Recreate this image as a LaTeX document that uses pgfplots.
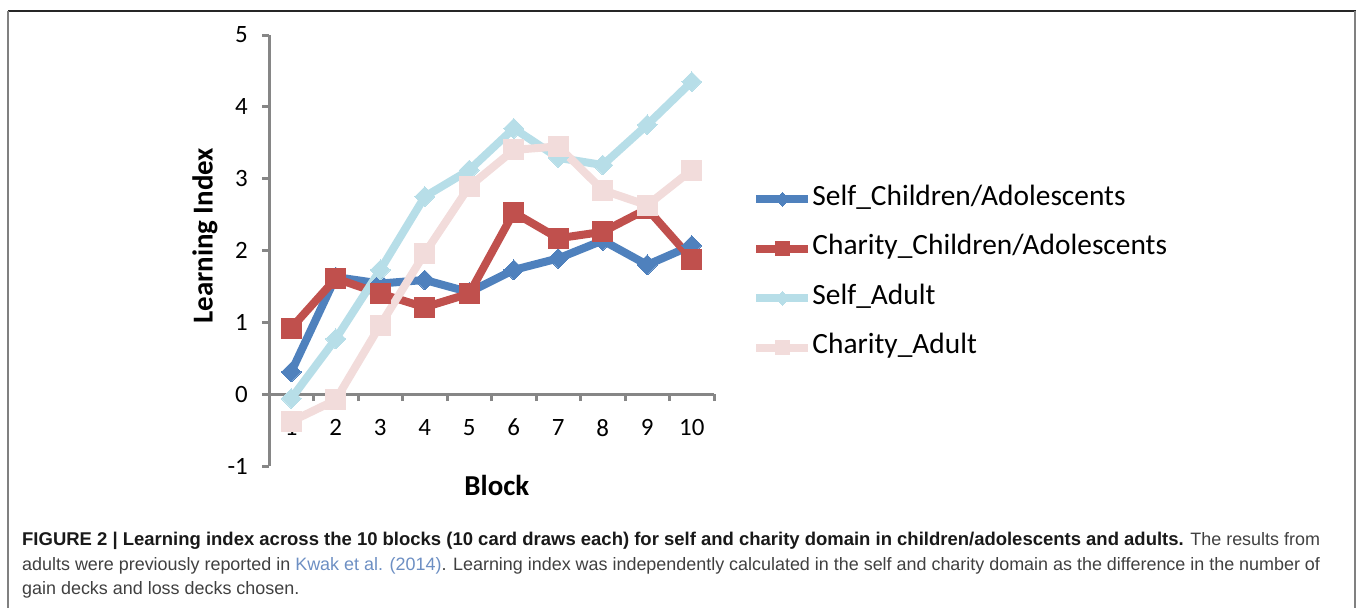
\documentclass[border=0pt]{standalone}
\usepackage{pgfplots}
\pgfplotsset{compat=1.18}
\usepackage{fontspec}
\setmainfont{Carlito}
\newfontfamily\capfont{Liberation Sans}

\definecolor{selfkid}{HTML}{4F81BD}
\definecolor{charkid}{HTML}{C0504D}
\definecolor{selfad}{HTML}{B7DEE8}
\definecolor{charad}{HTML}{F2DCDB}
\definecolor{axisgray}{HTML}{868686}
\definecolor{captxt}{HTML}{404040}
\definecolor{caplink}{HTML}{6D8FC3}

\newcommand{\fs}[1]{\fontsize{#1}{#1}\selectfont}

\begin{document}
\begin{tikzpicture}
\path[use as bounding box] (0,0) rectangle (1357bp,-608bp);
% frame of the figure
\draw[black!85, line width=1.5bp] (8bp,-11bp) -- (1356bp,-11bp);
\draw[gray, line width=2bp] (8bp,-11bp) -- (8bp,-608bp);
\draw[gray, line width=2bp] (1355bp,-11bp) -- (1355bp,-608bp);

\begin{axis}[
  at={(269bp,-466bp)}, anchor=south west,
  scale only axis, width=445bp, height=431bp,
  xmin=0.5, xmax=10.5, ymin=-1, ymax=5,
  axis y line*=left, axis x line*=middle,
  hide obscured x ticks=false, hide obscured y ticks=false,
  axis line style={draw=axisgray, line width=3bp},
  xtick={1,...,10}, ytick={-1,...,5},
  minor xtick={1.5,2.5,...,10.5},
  major x tick style={draw=none},
  tick style={draw=axisgray, line width=3bp},
  major tick length=7bp, minor tick length=7bp,
  tick align=outside,
  /pgf/number format/assume math mode=true,
  ticklabel style={font=\fs{25}},
  xticklabel style={anchor=center, yshift=-26.5bp},
  yticklabel style={anchor=east, inner sep=0pt, xshift=-14bp},
  xlabel={Block}, ylabel={Learning Index},
  every axis x label/.style={at={(rel axis cs:0.512,-0.044)}, anchor=center,
    font=\bfseries\fs{29}},
  every axis y label/.style={at={(rel axis cs:-0.144,0.534)}, anchor=center,
    rotate=90, font=\bfseries\fs{29}},
  legend style={at={(rel axis cs:1.086,0.647)}, anchor=north west,
    draw=none, fill=none, inner sep=0pt, row sep=25.5bp,
    font=\fs{29.5}, nodes={inner sep=0pt, text height=18bp, text depth=6bp},
    /tikz/every even column/.append style={column sep=0bp}},
  legend cell align=left,
  legend image code/.code={%
    \draw[mark repeat=2, mark phase=2, every mark/.append style={scale=0.7}]
      plot coordinates {(0bp,0bp) (26bp,0bp) (52bp,0bp)};},
  every axis plot/.append style={line width=8bp, line join=round},
]
\addplot[selfkid, mark=square*, mark size=7bp,
  mark options={rotate=45, fill=selfkid, draw=selfkid, line width=0pt}]
  coordinates {(1,0.31) (2,1.63) (3,1.54) (4,1.59) (5,1.42) (6,1.73) (7,1.89) (8,2.14) (9,1.80) (10,2.07)};
\addplot[charkid, mark=square*, mark size=10bp,
  mark options={fill=charkid, draw=charkid, line width=0pt}]
  coordinates {(1,0.92) (2,1.61) (3,1.40) (4,1.21) (5,1.40) (6,2.53) (7,2.17) (8,2.26) (9,2.58) (10,1.88)};
\addplot[selfad, mark=square*, mark size=7bp,
  mark options={rotate=45, fill=selfad, draw=selfad, line width=0pt}]
  coordinates {(1,-0.06) (2,0.77) (3,1.73) (4,2.75) (5,3.12) (6,3.70) (7,3.29) (8,3.19) (9,3.75) (10,4.35)};
\addplot[charad, mark=square*, mark size=10bp,
  mark options={fill=charad, draw=charad, line width=0pt}]
  coordinates {(1,-0.38) (2,-0.08) (3,0.96) (4,1.96) (5,2.89) (6,3.40) (7,3.45) (8,2.84) (9,2.63) (10,3.12)};
\legend{Self\_Children/Adolescents, Charity\_Children/Adolescents, Self\_Adult, Charity\_Adult}
\end{axis}

% caption
\begin{scope}[every node/.style={anchor=base west, inner sep=0pt, font=\capfont\fs{18}, text=captxt}]
\node at (22bp,-545bp) {\textcolor{black!90}{\bfseries\fs{18.55}FIGURE 2 | Learning index across the 10 blocks (10 card draws each) for self and charity domain in children/adolescents and adults.} The results from};
\node at (22bp,-570bp) {adults were previously reported in \textcolor{caplink}{Kwak et al. (2014)}. Learning index was independently calculated in the self and charity domain as the difference in the number of};
\node at (22bp,-594bp) {gain decks and loss decks chosen.};
\end{scope}
\end{tikzpicture}
\end{document}
